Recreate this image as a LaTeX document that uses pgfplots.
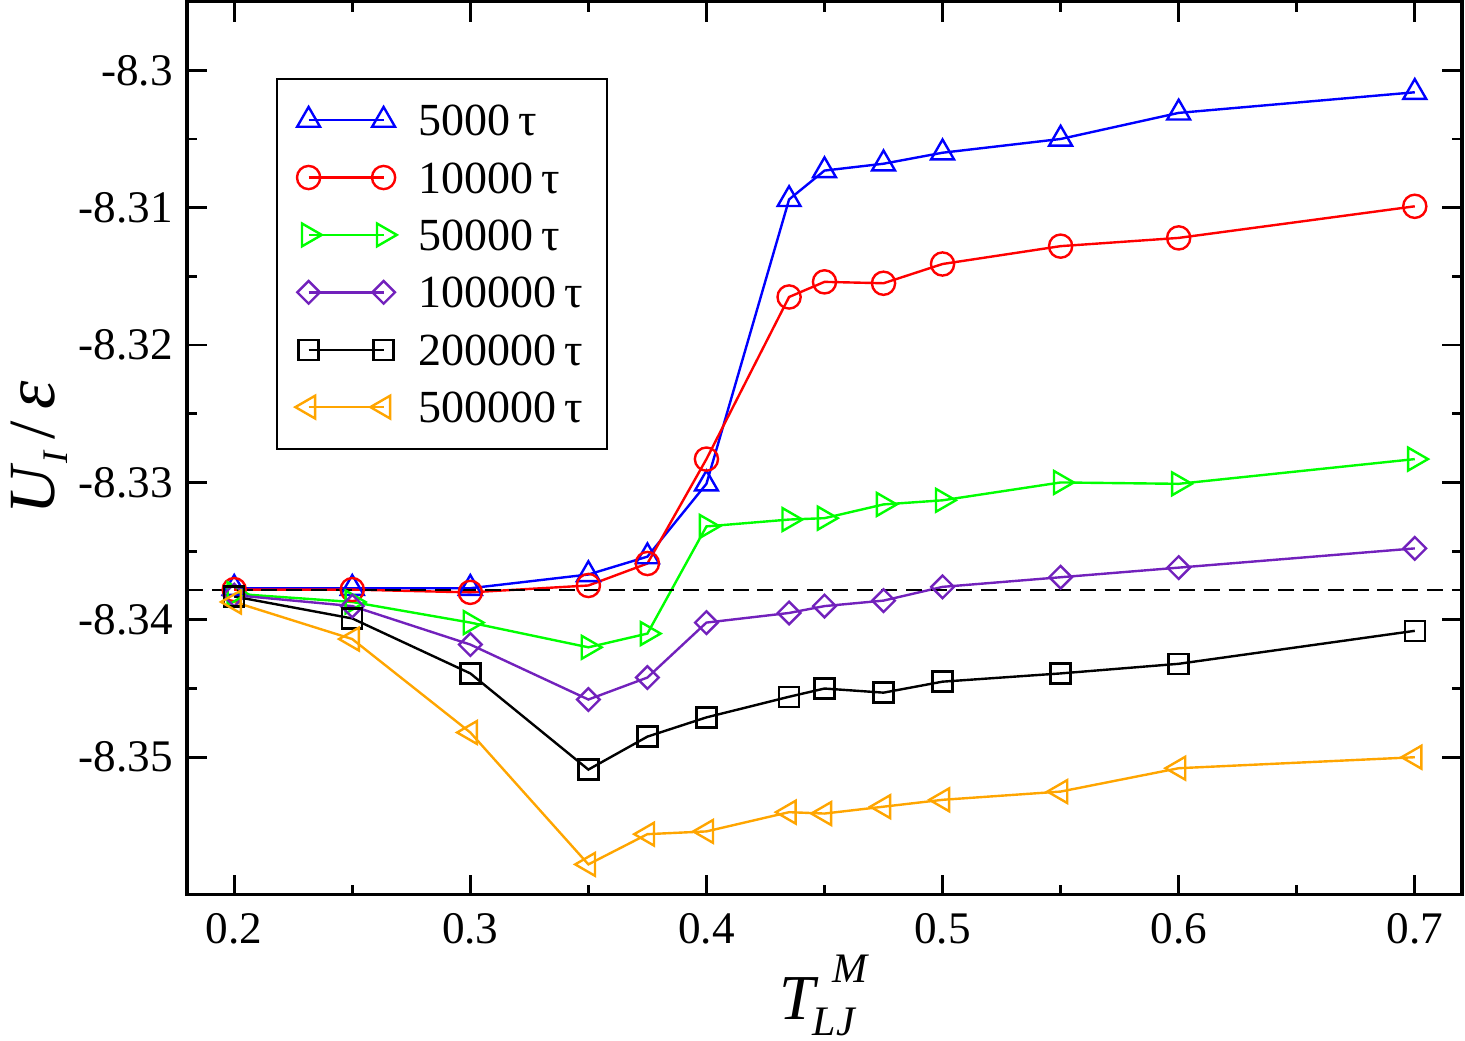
\documentclass[border=0pt]{standalone}
\usepackage{fontspec}
\setmainfont{Liberation Serif}
\usepackage{amsmath}
\usepackage{pgfplots}
\pgfplotsset{compat=1.18}

\definecolor{cblue}{RGB}{0,0,255}
\definecolor{cred}{RGB}{255,0,0}
\definecolor{cgreen}{RGB}{0,255,0}
\definecolor{cindigo}{RGB}{114,33,188}
\definecolor{corange}{RGB}{255,165,0}

\newcommand{\idxfont}{\fontsize{10.5}{12}\selectfont}

\begin{document}
\begin{tikzpicture}
\begin{axis}[
  scale only axis,
  width=318.75pt, height=223.25pt,
  xmin=0.18, xmax=0.72, ymin=-8.36, ymax=-8.295,
  xtick={0.2,0.3,0.4,0.5,0.6,0.7},
  ytick={-8.35,-8.34,-8.33,-8.32,-8.31,-8.30},
  minor x tick num=1, minor y tick num=1,
  scaled ticks=false,
  tick align=inside,
  major tick length=5pt, minor tick length=2.5pt,
  axis line style={line width=0.8pt},
  every tick/.style={black, line width=0.7pt},
  tick label style={font=\fontsize{11.3}{13}\selectfont},
  /pgf/number format/assume math mode=true,
  x tick label style={yshift=-1.2pt, /pgf/number format/.cd, fixed, precision=1},
  y tick label style={/pgf/number format/.cd, fixed, precision=2},
  xlabel={\fontsize{16}{18}\selectfont\textit{T}\rlap{\hspace{-1.5pt}\raisebox{-3.8pt}{\idxfont\textit{LJ}}}\hspace{3.5pt}\raisebox{9.25pt}{\idxfont\textit{M}}},
  xlabel style={at={(axis description cs:0.5,-0.0672)}, anchor=north, inner sep=0pt},
  ylabel={\fontsize{16.5}{18}\selectfont\textit{U}\raisebox{-0.45ex}{\fontsize{9}{10}\selectfont\textit{I}}\,/\,{\fontsize{18}{20}\selectfont\textit{ε}}},
  ylabel style={at={(axis description cs:-0.1390,0.5)}, anchor=north, inner sep=0pt},
  every axis plot/.append style={line width=0.6pt, mark options={solid, line width=0.6pt}},
  legend cell align=left,
  legend image code/.code={%
    \draw[#1] plot coordinates {(0pt,0pt) (18.75pt,0pt)};},
  legend style={
    at={(0.0698,0.915)}, anchor=north west,
    draw=black, line width=0.5pt, fill=white,
    font=\fontsize{11.5}{13}\selectfont,
    inner xsep=4.6pt, inner ysep=4pt,
    row sep=1.55pt, column sep=0pt,
    nodes={inner sep=0pt, text height=10.3pt, text depth=2.5pt},
    /tikz/every odd column/.append style={column sep=4pt},
    /tikz/every even column/.append style={nodes={inner xsep=1.5pt}},
  },
]

% 5000 tau
\addplot[cblue, mark=triangle, mark size=3.3pt] coordinates {
  (0.2,-8.3377) (0.25,-8.3377) (0.3,-8.3377) (0.35,-8.3367) (0.375,-8.3354)
  (0.4,-8.3301) (0.435,-8.3094) (0.45,-8.3073) (0.475,-8.3068) (0.5,-8.3060)
  (0.55,-8.3050) (0.6,-8.3031) (0.7,-8.3016)};
\addlegendentry{5000\,τ}

% 10000 tau
\addplot[cred, mark=o, mark size=2.9pt] coordinates {
  (0.2,-8.3378) (0.25,-8.3378) (0.3,-8.3380) (0.35,-8.3375) (0.375,-8.3359)
  (0.4,-8.3283) (0.435,-8.3165) (0.45,-8.3154) (0.475,-8.3155) (0.5,-8.3141)
  (0.55,-8.3128) (0.6,-8.3122) (0.7,-8.3099)};
\addlegendentry{10000\,τ}

% 50000 tau
\addplot[cgreen, mark=triangle, mark size=3.3pt, mark options={rotate=-90}] coordinates {
  (0.2,-8.3381) (0.25,-8.3387) (0.3,-8.3402) (0.35,-8.3420) (0.375,-8.3410)
  (0.4,-8.3332) (0.435,-8.3327) (0.45,-8.3326) (0.475,-8.3316) (0.5,-8.3313)
  (0.55,-8.3300) (0.6,-8.3301) (0.7,-8.3283)};
\addlegendentry{50000\,τ}

% 100000 tau
\addplot[cindigo, mark=square, mark size=2pt, mark options={rotate=45}] coordinates {
  (0.2,-8.3382) (0.25,-8.3390) (0.3,-8.3418) (0.35,-8.3458) (0.375,-8.3442)
  (0.4,-8.3402) (0.435,-8.3395) (0.45,-8.3390) (0.475,-8.3386) (0.5,-8.3376)
  (0.55,-8.3369) (0.6,-8.3362) (0.7,-8.3348)};
\addlegendentry{100000\,τ}

% 200000 tau
\addplot[black, mark=square, mark size=2.5pt] coordinates {
  (0.2,-8.3383) (0.25,-8.3399) (0.3,-8.3439) (0.35,-8.3509) (0.375,-8.3485)
  (0.4,-8.3471) (0.435,-8.3456) (0.45,-8.3450) (0.475,-8.3453) (0.5,-8.3445)
  (0.55,-8.3439) (0.6,-8.3432) (0.7,-8.3408)};
\addlegendentry{200000\,τ}

% 500000 tau
\addplot[corange, mark=triangle, mark size=3.3pt, mark options={rotate=90}] coordinates {
  (0.2,-8.3387) (0.25,-8.3414) (0.3,-8.3482) (0.35,-8.3578) (0.375,-8.3556)
  (0.4,-8.3554) (0.435,-8.3540) (0.45,-8.3541) (0.475,-8.3536) (0.5,-8.3531)
  (0.55,-8.3525) (0.6,-8.3508) (0.7,-8.3500)};
\addlegendentry{500000\,τ}

% reference level
\addplot[black, line width=0.5pt, dash pattern=on 4pt off 2.2pt, forget plot] coordinates {
  (0.18,-8.3378) (0.72,-8.3378)};

\end{axis}
\pgfresetboundingbox
\path[use as bounding box] (-46.75pt,-36.35pt) rectangle (319.5pt,223.65pt);
\end{tikzpicture}
\end{document}
